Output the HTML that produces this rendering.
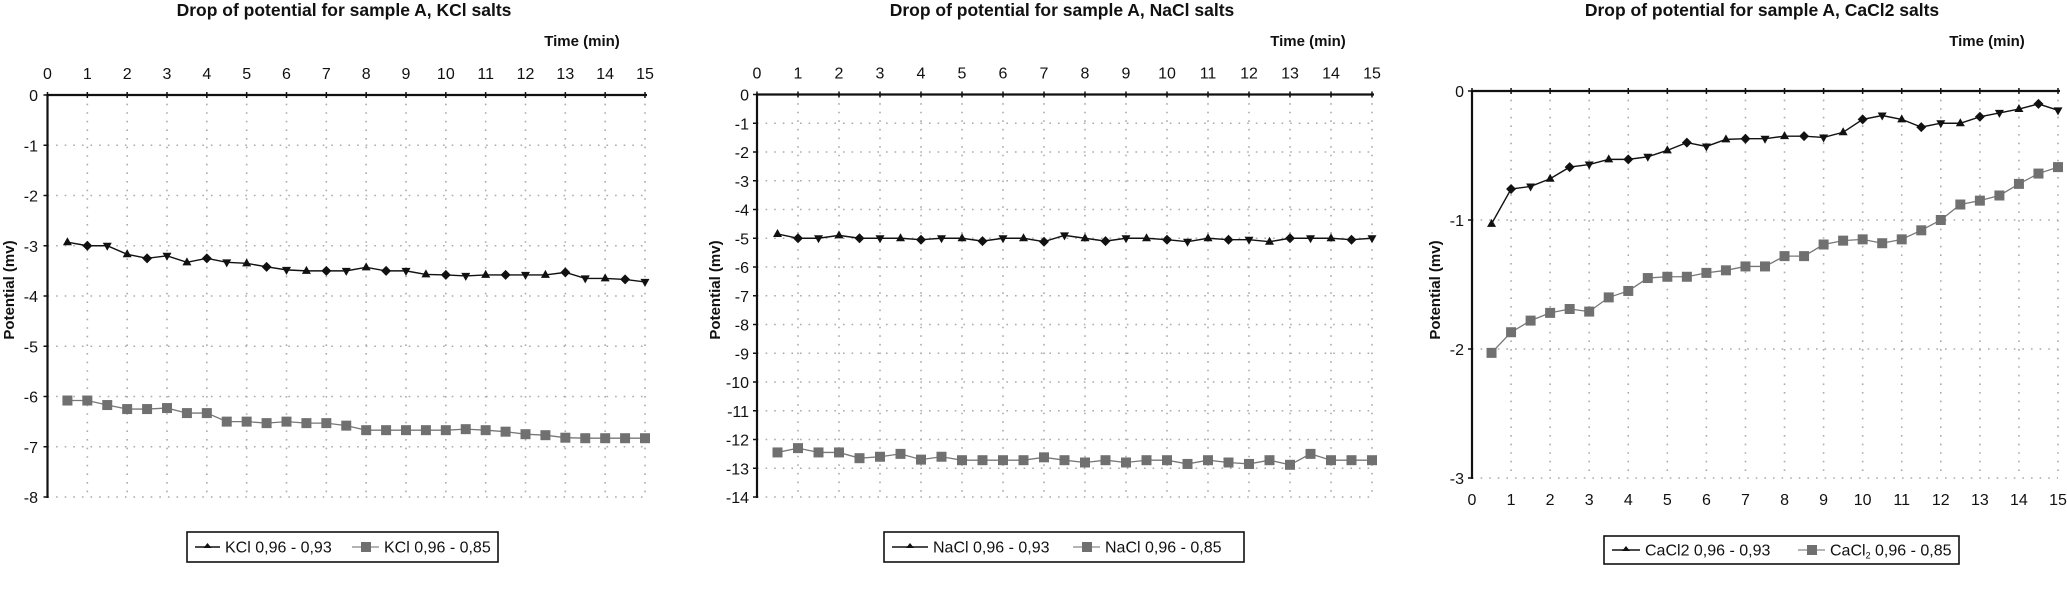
<!DOCTYPE html>
<html><head><meta charset="utf-8"><style>
html,body{margin:0;padding:0;background:#fff;}
svg{display:block;font-family:"Liberation Sans","DejaVu Sans",sans-serif;}
</style></head><body>
<svg id="chart" width="2067" height="593" viewBox="0 0 2067 593" xmlns="http://www.w3.org/2000/svg"></svg>
<script>
const times = [0.5,1,1.5,2,2.5,3,3.5,4,4.5,5,5.5,6,6.5,7,7.5,8,8.5,9,9.5,10,10.5,11,11.5,12,12.5,13,13.5,14,14.5,15];
const kclA = [-2.93,-3.0,-3.0,-3.17,-3.25,-3.2,-3.33,-3.25,-3.33,-3.35,-3.42,-3.48,-3.5,-3.5,-3.5,-3.43,-3.5,-3.5,-3.57,-3.58,-3.6,-3.58,-3.58,-3.58,-3.58,-3.53,-3.65,-3.65,-3.67,-3.72];
const kclB = [-6.08,-6.08,-6.17,-6.25,-6.25,-6.23,-6.33,-6.33,-6.5,-6.5,-6.53,-6.5,-6.53,-6.53,-6.58,-6.67,-6.67,-6.67,-6.67,-6.67,-6.65,-6.67,-6.7,-6.75,-6.77,-6.82,-6.83,-6.83,-6.83,-6.83];
const naclA = [-4.85,-5.0,-5.0,-4.9,-5.0,-5.0,-5.0,-5.05,-5.0,-5.0,-5.1,-5.0,-5.0,-5.12,-4.9,-5.0,-5.1,-5.0,-5.0,-5.05,-5.12,-5.0,-5.05,-5.05,-5.12,-5.0,-5.0,-5.0,-5.05,-5.0];
const naclB = [-12.45,-12.3,-12.45,-12.45,-12.65,-12.6,-12.5,-12.7,-12.6,-12.72,-12.72,-12.72,-12.72,-12.62,-12.72,-12.8,-12.72,-12.8,-12.72,-12.72,-12.85,-12.72,-12.8,-12.85,-12.72,-12.88,-12.5,-12.72,-12.72,-12.72];
const caclA = [-1.03,-0.76,-0.74,-0.68,-0.59,-0.57,-0.53,-0.53,-0.51,-0.46,-0.40,-0.43,-0.375,-0.37,-0.37,-0.35,-0.35,-0.36,-0.32,-0.22,-0.19,-0.22,-0.28,-0.25,-0.25,-0.2,-0.17,-0.14,-0.1,-0.15];
const caclB = [-2.03,-1.87,-1.78,-1.72,-1.69,-1.71,-1.6,-1.55,-1.45,-1.44,-1.44,-1.41,-1.39,-1.36,-1.36,-1.28,-1.28,-1.19,-1.16,-1.15,-1.18,-1.15,-1.08,-1.0,-0.88,-0.85,-0.81,-0.72,-0.64,-0.59];
const xTicks = [0,1,2,3,4,5,6,7,8,9,10,11,12,13,14,15];
const kclYTicks = [0,-1,-2,-3,-4,-5,-6,-7,-8];
const naclYTicks = [0,-1,-2,-3,-4,-5,-6,-7,-8,-9,-10,-11,-12,-13,-14];
const caclYTicks = [0,-1,-2,-3];

const NS = "http://www.w3.org/2000/svg";
const svg = document.getElementById('chart');
function mk(tag, attrs, parent, text){
  const e = document.createElementNS(NS, tag);
  for (const k in attrs) e.setAttribute(k, attrs[k]);
  if (text !== undefined) e.textContent = text;
  (parent||svg).appendChild(e);
  return e;
}

const panels = [
  {key:'kcl', title:'Drop of potential for sample A, KCl salts', tcx:344, x0:47.5, x1:645, y0:95, y1:497, ymin:-8, yT:kclYTicks, a:kclA, b:kclB,
   xlabTop:true, timeX:582, ylabX:38, ytitleX:9,
   leg:{x:187,y:532,w:311,h:30, l1:'KCl 0,96 - 0,93', l2:'KCl 0,96 - 0,85', t1:225, t2:384}},
  {key:'nacl', title:'Drop of potential for sample A, NaCl salts', tcx:1062, x0:757, x1:1372, y0:94.5, y1:497, ymin:-14, yT:naclYTicks, a:naclA, b:naclB,
   xlabTop:true, timeX:1308, ylabX:749, ytitleX:715,
   leg:{x:884,y:532,w:360,h:30, l1:'NaCl 0,96 - 0,93', l2:'NaCl 0,96 - 0,85', t1:933, t2:1105}},
  {key:'cacl', title:'Drop of potential for sample A, CaCl2 salts', tcx:1762, x0:1472, x1:2058, y0:91, y1:478, ymin:-3, yT:caclYTicks, a:caclA, b:caclB,
   xlabTop:false, timeX:1987, ylabX:1464, ytitleX:1435,
   leg:{x:1604,y:536,w:355,h:28, l1:'CaCl2 0,96 - 0,93', l2:'CaCl', t1:1645, t2:1830, sub:true}}
];

panels.forEach(p => {
  const g = mk('g', {});
  
  
  const X = v => p.x0 + (v/15)*(p.x1-p.x0);
  const Y = v => p.y0 + (v/p.ymin)*(p.y1-p.y0);

  const t = mk('text', {x:p.tcx, y:16, 'text-anchor':'middle', 'font-size':17.5, 'font-weight':'bold', fill:'#111'}, g, p.title);
  
  
  const tm = mk('text', {x:p.timeX, y:46, 'text-anchor':'middle', 'font-size':15, 'font-weight':'bold', fill:'#111'}, g, 'Time (min)');
  
  

  const grid = mk('g', {stroke:'#aaa', 'stroke-width':1.6, 'stroke-dasharray':'1.6 7'}, g);
  
  
  xTicks.forEach(v => { if (v>0) mk('line', {x1:X(v), y1:p.y0, x2:X(v), y2:p.y1}, grid); });
  p.yT.forEach(v => { if (v<0) mk('line', {x1:p.x0, y1:Y(v), x2:p.x1, y2:Y(v)}, grid); });

  const ax = mk('g', {stroke:'#111', 'stroke-width':2.2}, g);
  
  
  mk('line', {x1:p.x0, y1:p.y0-1, x2:p.x0, y2:p.y1+1}, ax);
  mk('line', {x1:p.x0, y1:p.y0, x2:p.x1+2, y2:p.y0}, ax);
  xTicks.forEach(v => mk('line', {x1:X(v), y1:p.y0-3, x2:X(v), y2:p.y0+3, 'stroke-width':1.5}, ax));
  p.yT.forEach(v => mk('line', {x1:p.x0-4, y1:Y(v), x2:p.x0, y2:Y(v), 'stroke-width':1.5}, ax));

  const xl = mk('g', {'font-size':16, fill:'#111', 'text-anchor':'middle'}, g);
  
  
  xTicks.forEach(v => mk('text', {x:X(v), y: p.xlabTop ? p.y0-16 : p.y1+27}, xl, String(v)));
  const yl = mk('g', {'font-size':16, fill:'#111', 'text-anchor':'end'}, g);
  
  
  p.yT.forEach(v => mk('text', {x:p.ylabX, y:Y(v)+6}, yl, String(v)));

  const yt = mk('text', {x:p.ytitleX, y:290, 'text-anchor':'middle', 'font-size':15, 'font-weight':'bold', fill:'#111', transform:`rotate(-90 ${p.ytitleX} 290)`, dy:5}, g, 'Potential (mv)');
  
  

  const sb = mk('g', {}, g);
  
  
  mk('polyline', {points: times.map((tv,i)=>X(tv)+','+Y(p.b[i])).join(' '), fill:'none', stroke:'#777', 'stroke-width':1.3}, sb);
  times.forEach((tv,i) => {
    const r = mk('rect', {x:X(tv)-5, y:Y(p.b[i])-5, width:10, height:10, fill:'#707070'}, sb);
    
    
  });

  const sa = mk('g', {}, g);
  
  
  mk('polyline', {points: times.map((tv,i)=>X(tv)+','+Y(p.a[i])).join(' '), fill:'none', stroke:'#111', 'stroke-width':1.4}, sa);
  times.forEach((tv,i) => {
    const cx = X(tv), cy = Y(p.a[i]);
    let pts;
    if (i % 3 === 1) pts = `${cx},${cy-5} ${cx+5},${cy} ${cx},${cy+5} ${cx-5},${cy}`;
    else if (i % 3 === 0) pts = `${cx},${cy-5} ${cx+4.5},${cy+3} ${cx-4.5},${cy+3}`;
    else pts = `${cx},${cy+5} ${cx+4.5},${cy-3} ${cx-4.5},${cy-3}`;
    const m = mk('polygon', {points:pts, fill:'#111'}, sa);
    
    
  });

  const L = p.leg;
  const lg = mk('g', {}, g);
  
  
  mk('rect', {x:L.x, y:L.y, width:L.w, height:L.h, fill:'#fff', stroke:'#111', 'stroke-width':1.6}, lg);
  const cy = L.y + L.h/2;
  mk('line', {x1:L.x+8, y1:cy, x2:L.t1-5, y2:cy, stroke:'#111', 'stroke-width':1.4}, lg);
  mk('polygon', {points:`${(L.x+8+L.t1-5)/2},${cy-4} ${(L.x+8+L.t1-5)/2+4},${cy+1} ${(L.x+8+L.t1-5)/2-4},${cy+1}`, fill:'#111'}, lg);
  const e1 = mk('text', {x:L.t1, y:cy+5.5, 'font-size':16, fill:'#111'}, lg, L.l1);
  
  
  mk('line', {x1:L.t2-32, y1:cy, x2:L.t2-5, y2:cy, stroke:'#888', 'stroke-width':1.3}, lg);
  mk('rect', {x:L.t2-23, y:cy-5, width:10, height:10, fill:'#707070'}, lg);
  const e2 = mk('text', {x:L.t2, y:cy+5.5, 'font-size':16, fill:'#111'}, lg);
  
  
  if (L.sub) {
    e2.appendChild(document.createTextNode('CaCl'));
    mk('tspan', {'font-size':9, dy:3}, e2, '2');
    mk('tspan', {dy:-3}, e2, ' 0,96 - 0,85');
  } else {
    e2.textContent = L.l2;
  }
});
</script>
</body></html>
